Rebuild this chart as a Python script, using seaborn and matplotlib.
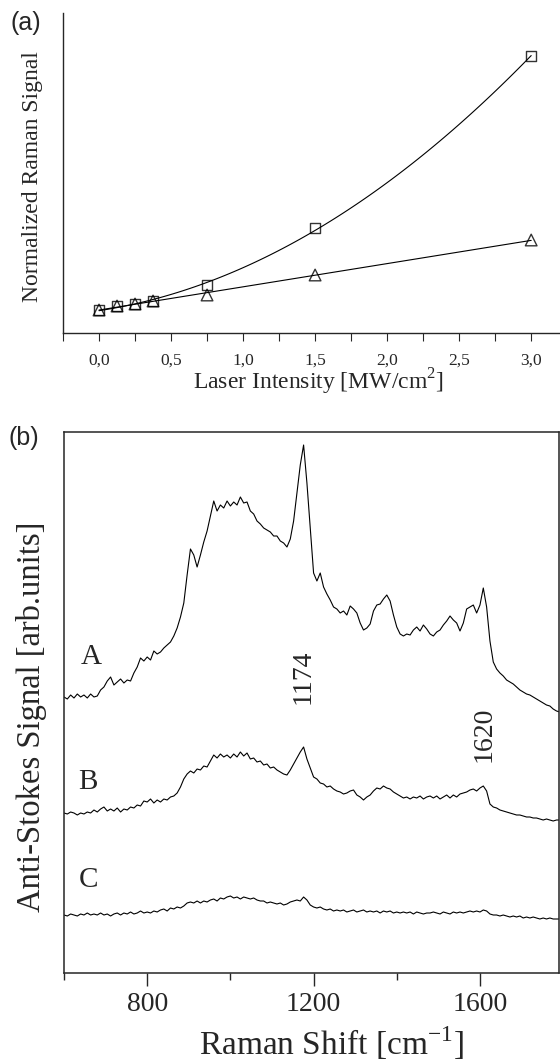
import numpy as np
import matplotlib
matplotlib.use("Agg")
import matplotlib.pyplot as plt
from matplotlib.ticker import MultipleLocator, FuncFormatter
import seaborn as sns

# (a) laser intensity dependence
intensity = [0.0, 0.125, 0.25, 0.375, 0.75, 1.5, 3.0]
signal_square = [23, 27, 29, 32, 48, 105, 277]
signal_triangle = [23, 27, 29, 32, 38, 58, 93]

# (b) anti-Stokes spectra, one value every 8 cm-1 starting at 600 cm-1
shift_start = 600
shift_step = 8
spec_A = [
    276, 274, 278, 275, 279, 276, 278, 275, 279, 276,
    277, 283, 286, 292, 296, 288, 291, 294, 290, 293,
    292, 300, 306, 315, 312, 316, 313, 322, 319, 321,
    325, 328, 331, 337, 345, 356, 370, 398, 424, 418,
    406, 418, 431, 442, 457, 472, 462, 468, 465, 472,
    467, 471, 468, 476, 470, 471, 462, 459, 452, 449,
    445, 443, 441, 437, 437, 432, 430, 426, 434, 452,
    480, 508, 528, 490, 445, 400, 392, 400, 386, 379,
    373, 366, 364, 360, 362, 358, 367, 364, 360, 350,
    343, 345, 349, 362, 368, 369, 374, 378, 372, 358,
    346, 339, 337, 339, 338, 343, 346, 342, 348, 344,
    339, 337, 341, 343, 348, 352, 357, 353, 350, 342,
    350, 364, 366, 368, 360, 368, 385, 366, 332, 311,
    304, 300, 297, 293, 291, 289, 286, 283, 281, 279,
    278, 276, 274, 272, 270, 268, 267, 264, 262, 261,
]
spec_B = [
    160, 159, 161, 160, 158, 160, 159, 161, 160, 163,
    161, 164, 166, 162, 164, 162, 165, 161, 164, 163,
    166, 165, 168, 167, 172, 171, 174, 170, 173, 171,
    174, 173, 176, 177, 180, 186, 194, 199, 202, 200,
    204, 203, 207, 206, 212, 218, 215, 219, 216, 218,
    215, 219, 216, 221, 217, 220, 214, 215, 211, 212,
    208, 209, 205, 206, 203, 201, 199, 198, 203, 209,
    215, 221, 226, 214, 205, 196, 194, 190, 189, 186,
    187, 184, 182, 181, 179, 180, 182, 183, 178, 176,
    173, 176, 178, 182, 185, 184, 187, 185, 184, 181,
    179, 177, 175, 176, 174, 176, 175, 177, 174, 176,
    177, 175, 177, 174, 176, 178, 175, 178, 176, 179,
    180, 181, 183, 184, 182, 185, 187, 182, 169, 166,
    165, 163, 162, 161, 160, 159, 158, 158, 157, 156,
    156, 155, 155, 154, 153, 154, 153, 152, 153, 153,
]
spec_C = [
    58, 57, 59, 58, 57, 59, 58, 60, 58, 59,
    58, 60, 58, 59, 57, 59, 60, 58, 60, 59,
    61, 59, 60, 62, 60, 61, 60, 62, 61, 63,
    64, 62, 65, 64, 66, 65, 67, 70, 71, 70,
    72, 70, 72, 71, 73, 74, 72, 75, 74, 76,
    77, 75, 76, 74, 76, 75, 74, 75, 73, 72,
    72, 70, 71, 70, 69, 70, 68, 69, 71, 72,
    73, 72, 76, 73, 68, 66, 65, 66, 64, 63,
    64, 62, 63, 62, 63, 61, 62, 63, 61, 62,
    63, 61, 62, 61, 62, 60, 62, 61, 62, 60,
    61, 60, 61, 60, 61, 59, 61, 60, 59, 60,
    60, 61, 60, 59, 61, 60, 59, 61, 60, 61,
    60, 61, 62, 61, 62, 61, 63, 62, 59, 58,
    58, 57, 58, 57, 56, 57, 56, 57, 55, 56,
    55, 56, 55, 54, 55, 54, 55, 54, 54, 54,
]
spec_labels = ["A", "B", "C"]
label_pos = [(665, 316), (658, 191), (658, 93)]
peak_labels = ["1174", "1620"]
peak_pos = [(1174, 296), (1611, 239)]

sns.set_style("ticks")
plt.rcParams['font.family'] = ['Liberation Serif', 'DejaVu Serif']
plt.rcParams['mathtext.fontset'] = 'custom'
plt.rcParams['mathtext.rm'] = 'Liberation Serif'

W, H = 560, 1063
fig = plt.figure(figsize=(W / 100, H / 100), dpi=100)

# ---- panel (a)
ax1 = fig.add_axes([63 / W, 1 - 333 / H, (560 - 63) / W, 320 / H])
sns.regplot(x=intensity, y=signal_square, order=2, ci=None, ax=ax1, marker='s',
            scatter_kws=dict(s=55, facecolors='none', edgecolors='black', linewidths=1.0),
            line_kws=dict(color='black', lw=0.8))
sns.regplot(x=intensity, y=signal_triangle, order=1, ci=None, ax=ax1, marker='^',
            scatter_kws=dict(s=70, facecolors='none', edgecolors='black', linewidths=1.0),
            line_kws=dict(color='black', lw=0.8))
ax1.set_xlim(-0.25, 3.2)
ax1.set_ylim(0, 320)
ax1.xaxis.set_major_locator(MultipleLocator(0.5))
ax1.xaxis.set_minor_locator(MultipleLocator(0.25))
ax1.xaxis.set_major_formatter(FuncFormatter(lambda v, p: f"{v:.1f}".replace('.', ',')))
ax1.set_yticks([])
ax1.tick_params(axis='x', which='both', direction='out', length=6, width=0.8, labelsize=12.5, pad=8)
for s in ['top', 'right']:
    ax1.spines[s].set_visible(False)
for s in ['left', 'bottom']:
    ax1.spines[s].set_linewidth(1.0)
ax1.set_xlabel(r"Laser Intensity [MW/cm$^{2}$]", fontsize=17, va='center')
ax1.xaxis.set_label_coords((318 - 63) / 497, (333 - 382) / 320)
ax1.set_ylabel("Normalized Raman Signal", fontsize=17, va='center')
ax1.yaxis.set_label_coords((33 - 63) / 497, 0.49)

# ---- panel (b)
ax2 = fig.add_axes([64 / W, 1 - 973 / H, (559 - 64) / W, 541 / H])
for spec in [spec_A, spec_B, spec_C]:
    shift = shift_start + shift_step * np.arange(len(spec))
    sns.lineplot(x=shift, y=spec, ax=ax2, color='black', lw=0.8, estimator=None)
for lab, (x, y) in zip(spec_labels, label_pos):
    ax2.text(x, y, lab, fontsize=21, ha='center', va='center')
for lab, (x, y) in zip(peak_labels, peak_pos):
    ax2.text(x, y, lab, fontsize=20, ha='center', va='center', rotation=90)
ax2.set_xlim(600, 1790)
ax2.set_ylim(0, 541)
ax2.xaxis.set_major_locator(MultipleLocator(400))
ax2.xaxis.set_minor_locator(MultipleLocator(200))
ax2.set_yticks([])
ax2.tick_params(axis='x', which='major', direction='out', length=9, width=1.0, labelsize=20, pad=5)
ax2.tick_params(axis='x', which='minor', direction='out', length=5, width=1.0)
for s in ax2.spines.values():
    s.set_linewidth(1.1)
ax2.set_xlabel(r"Raman Shift [cm$^{-1}$]", fontsize=24, va='center')
ax2.xaxis.set_label_coords((331 - 64) / 495, (973 - 1043) / 541)
ax2.set_ylabel("Anti-Stokes Signal [arb.units]", fontsize=23.5, va='center')
ax2.yaxis.set_label_coords((32 - 64) / 495, 0.473)

fig.text(26 / W, 1 - 23 / H, "(a)", fontsize=18, family='Liberation Sans', ha='center', va='center')
fig.text(24 / W, 1 - 438 / H, "(b)", fontsize=18, family='Liberation Sans', ha='center', va='center')

fig.savefig("out.png", dpi=100)
